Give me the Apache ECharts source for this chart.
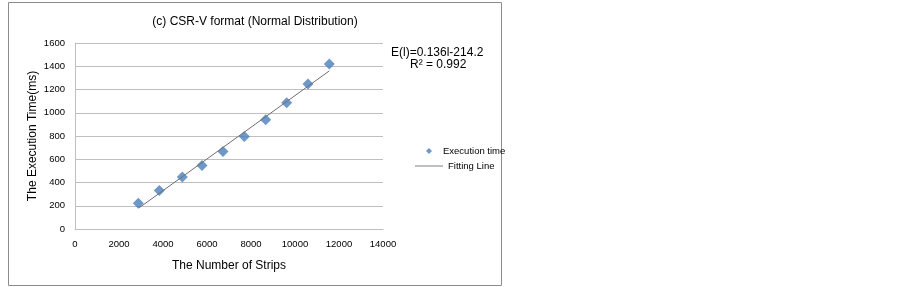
<!DOCTYPE html>
<html><head><meta charset="utf-8">
<script src="https://cdn.jsdelivr.net/npm/echarts@6/dist/echarts.min.js"></script>
<style>html,body{margin:0;padding:0;background:#fff}#c{width:903px;height:287px}</style>
</head><body><div id="c"></div>
<script>
const strips = [2877, 3832, 4877, 5773, 6727, 7696, 8667, 9621, 10591, 11560];
const execTimes = [221, 332, 447, 547, 667, 796, 939, 1085, 1248, 1420];
const fitX = [2920, 11560];
const fitY = [183, 1360];
const xTicks = [0, 2000, 4000, 6000, 8000, 10000, 12000, 14000];
const yTicks = [0, 200, 400, 600, 800, 1000, 1200, 1400, 1600];

const font = 'Liberation Sans, Arial, sans-serif';
const chart = echarts.init(document.getElementById('c'), null, {renderer: 'canvas'});
chart.setOption({
  animation: false,
  backgroundColor: '#fff',
  title: {
    text: '(c) CSR-V format (Normal Distribution)',
    left: 250, top: 11, textAlign: 'center',
    textStyle: {fontFamily: font, fontSize: 12, fontWeight: 'normal', color: '#000'}
  },
  grid: {left: 75, right: 520, top: 43, bottom: 58},
  xAxis: {
    type: 'value', min: xTicks[0], max: xTicks[xTicks.length - 1], interval: xTicks[1] - xTicks[0],
    name: 'The Number of Strips', nameLocation: 'middle', nameGap: 31,
    nameTextStyle: {fontFamily: font, fontSize: 12, color: '#000'},
    axisLine: {show: true, lineStyle: {color: '#bfbfbf'}},
    axisTick: {show: false},
    splitLine: {show: false},
    axisLabel: {fontFamily: font, fontSize: 9.5, color: '#000', margin: 10, formatter: v => String(v)}
  },
  yAxis: {
    type: 'value', min: yTicks[0], max: yTicks[yTicks.length - 1], interval: yTicks[1] - yTicks[0],
    name: 'The Execution Time(ms)', nameLocation: 'middle', nameGap: 36,
    nameTextStyle: {fontFamily: font, fontSize: 12, color: '#000'},
    axisLine: {show: true, lineStyle: {color: '#bfbfbf'}},
    axisTick: {show: false},
    splitLine: {show: true, lineStyle: {color: '#bfbfbf'}},
    axisLabel: {fontFamily: font, fontSize: 9.5, color: '#000', margin: 10, formatter: v => String(v)}
  },
  legend: [
    {data: [{name: 'Execution time', icon: 'diamond'}], left: 421, top: 141, itemWidth: 6, itemHeight: 6,
     textStyle: {fontFamily: font, fontSize: 9.5, color: '#000', padding: [0, 0, 0, 6]}},
    {data: [{name: 'Fitting Line', icon: 'rect'}], left: 410, top: 156, itemWidth: 28, itemHeight: 1,
     itemStyle: {color: '#7f7f7f'},
     textStyle: {fontFamily: font, fontSize: 9.5, color: '#000'}}
  ],
  graphic: [
    {type: 'rect', shape: {x: 8.5, y: 2.5, width: 493, height: 283},
     style: {fill: 'none', stroke: '#8c8c8c', lineWidth: 1}, silent: true},
    {type: 'text', left: 391, top: 47,
     style: {text: 'E(l)=0.136l-214.2', font: '12px ' + font, fill: '#000'}},
    {type: 'text', left: 410, top: 59,
     style: {text: 'R\u00b2 = 0.992', font: '12px ' + font, fill: '#000'}}
  ],
  series: [
    {name: 'Fitting Line', type: 'line', symbol: 'none', showSymbol: false,
     data: fitX.map((x, i) => [x, fitY[i]]),
     lineStyle: {color: '#6f6f6f', width: 1}, itemStyle: {color: '#6f6f6f'}, z: 3},
    {name: 'Execution time', type: 'scatter', symbol: 'diamond', symbolSize: 11,
     data: strips.map((x, i) => [x, execTimes[i]]),
     itemStyle: {color: '#4a7ebb'}, z: 2}
  ]
});
</script></body></html>
